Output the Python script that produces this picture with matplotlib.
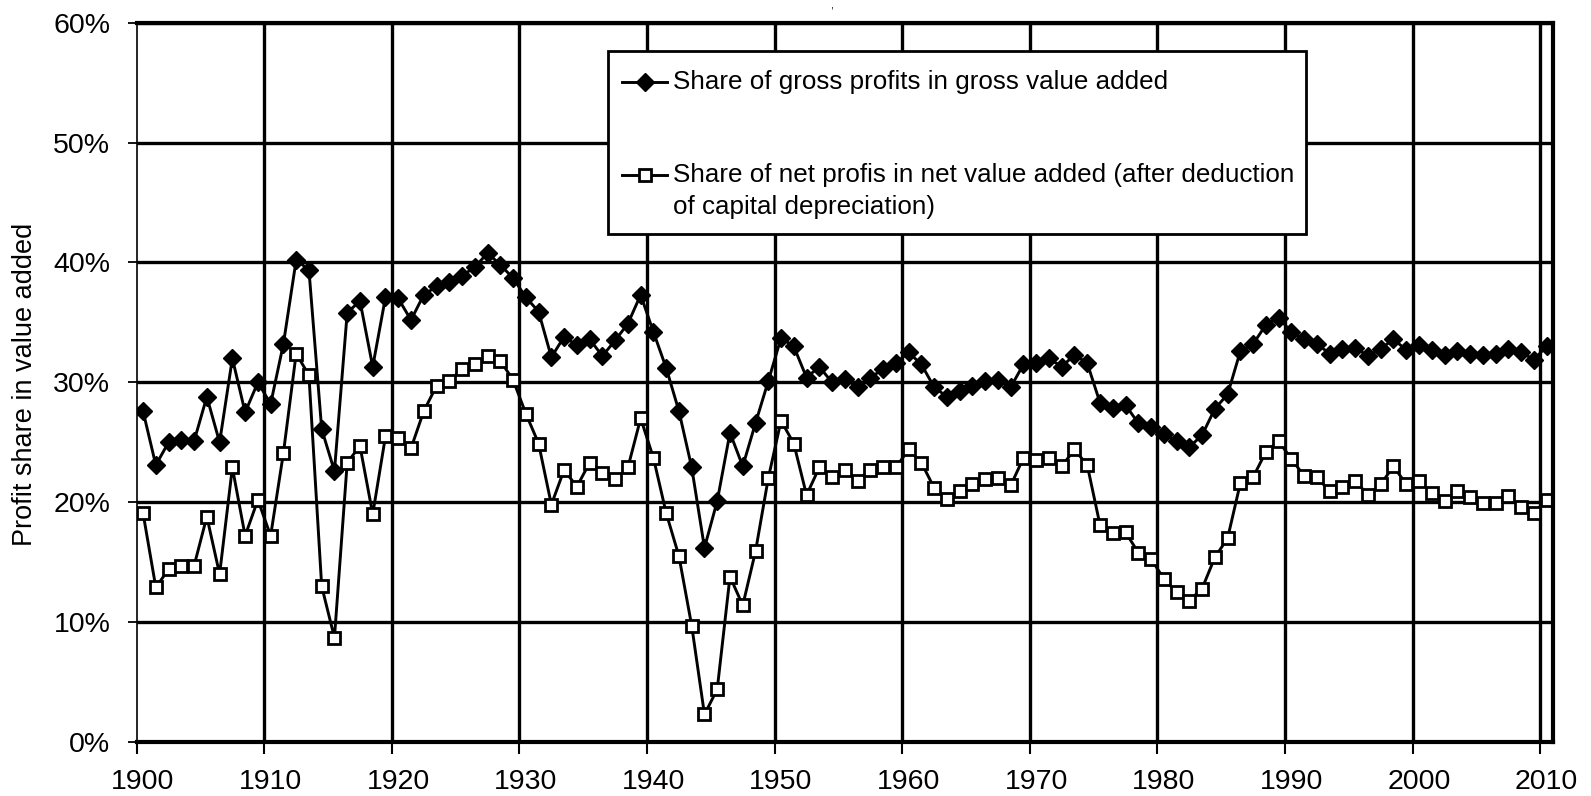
import matplotlib
matplotlib.use("Agg")
import matplotlib.pyplot as plt
from matplotlib.patches import Rectangle
from matplotlib.lines import Line2D
from matplotlib.ticker import FuncFormatter, FixedLocator

# ---- data -------------------------------------------------------------
years = list(range(1900, 2011))

gross_share = [
    27.6, 23.1, 25.0, 25.2, 25.1, 28.8, 25.0, 32.0, 27.5, 30.0,   # 1900s
    28.2, 33.2, 40.2, 39.4, 26.1, 22.6, 35.8, 36.8, 31.3, 37.1,   # 1910s
    37.0, 35.2, 37.3, 38.0, 38.4, 38.9, 39.6, 40.8, 39.8, 38.7,   # 1920s
    37.1, 35.9, 32.1, 33.8, 33.1, 33.6, 32.2, 33.5, 34.9, 37.3,   # 1930s
    34.2, 31.2, 27.6, 22.9, 16.2, 20.1, 25.8, 23.0, 26.6, 30.1,   # 1940s
    33.7, 33.0, 30.4, 31.3, 30.0, 30.3, 29.6, 30.4, 31.1, 31.6,   # 1950s
    32.5, 31.5, 29.6, 28.8, 29.3, 29.7, 30.1, 30.2, 29.6, 31.5,   # 1960s
    31.6, 32.0, 31.3, 32.3, 31.6, 28.3, 27.9, 28.1, 26.6, 26.3,   # 1970s
    25.7, 25.1, 24.6, 25.6, 27.8, 29.0, 32.6, 33.2, 34.8, 35.4,   # 1980s
    34.2, 33.6, 33.2, 32.4, 32.8, 32.9, 32.2, 32.8, 33.6, 32.7,   # 1990s
    33.1, 32.7, 32.3, 32.6, 32.4, 32.3, 32.4, 32.8, 32.5, 31.9,   # 2000s
    33.0,                                                         # 2010
]

net_share = [
    19.1, 12.9, 14.4, 14.7, 14.7, 18.8, 14.0, 22.9, 17.2, 20.2,   # 1900s
    17.2, 24.1, 32.4, 30.6, 13.0, 8.7, 23.3, 24.7, 19.0, 25.5,    # 1910s
    25.4, 24.5, 27.6, 29.7, 30.1, 31.1, 31.5, 32.2, 31.8, 30.2,   # 1920s
    27.4, 24.9, 19.8, 22.7, 21.3, 23.3, 22.4, 21.9, 22.9, 27.0,   # 1930s
    23.7, 19.1, 15.5, 9.7, 2.3, 4.4, 13.8, 11.4, 15.9, 22.0,      # 1940s
    26.8, 24.9, 20.6, 22.9, 22.1, 22.7, 21.8, 22.7, 22.9, 22.9,   # 1950s
    24.4, 23.3, 21.2, 20.3, 20.9, 21.5, 21.9, 22.0, 21.4, 23.7,   # 1960s
    23.5, 23.7, 23.0, 24.4, 23.1, 18.1, 17.4, 17.5, 15.8, 15.3,   # 1970s
    13.6, 12.5, 11.8, 12.8, 15.4, 17.0, 21.6, 22.1, 24.2, 25.1,   # 1980s
    23.6, 22.2, 22.1, 20.9, 21.3, 21.8, 20.6, 21.5, 23.0, 21.5,   # 1990s
    21.8, 20.8, 20.1, 20.9, 20.4, 19.9, 19.9, 20.5, 19.6, 19.1,   # 2000s
    20.2,                                                         # 2010
]

decade_ticks = list(range(1900, 2011, 10))
y_ticks = [0, 10, 20, 30, 40, 50, 60]

gross_label = "Share of gross profits in gross value added"
net_label_lines = ["Share of net profis in net value added (after deduction",
                   "of capital depreciation)"]
y_label = "Profit share in value added"

# ---- style ------------------------------------------------------------
plt.rcParams["font.family"] = ["Liberation Sans", "DejaVu Sans"]
TICK_FS = 20.5
LEGEND_FS = 18.7
LINE_W = 2.1
GROSS_MARK = dict(marker="D", ms=8.8, mfc="black", mec="black", mew=1.0)
NET_MARK = dict(marker="s", ms=8.4, mfc="white", mec="black", mew=2.0)
FIG_W_PX, FIG_H_PX, DPI = 1591, 796, 100
XLABEL_TOP_PX = 769          # pixel row where the year labels start

# ---- figure -----------------------------------------------------------
fig = plt.figure(figsize=(FIG_W_PX / DPI, FIG_H_PX / DPI), dpi=DPI)
ax = fig.add_axes([0.0859, 0.0678, 0.8902, 0.9037])

# each year sits in the middle of its own category slot
x_pos = [y + 0.5 for y in years]

ax.plot(x_pos, gross_share, color="black", lw=LINE_W, zorder=3, **GROSS_MARK)
ax.plot(x_pos, net_share, color="black", lw=LINE_W, zorder=4, **NET_MARK)

ax.set_xlim(1900, 2011)
ax.set_ylim(0, 60)

# gridlines at decade boundaries, labels centred on the decade's first year
ax.xaxis.set_major_locator(FixedLocator(decade_ticks))
ax.xaxis.set_minor_locator(FixedLocator([d + 0.5 for d in decade_ticks]))
ax.xaxis.set_major_formatter(FuncFormatter(lambda v, p: ""))
ax.xaxis.set_minor_formatter(FuncFormatter(lambda v, p: f"{int(v)}"))
ax.set_yticks(y_ticks)
ax.yaxis.set_major_formatter(FuncFormatter(lambda v, p: f"{v:.0f}%"))

ax.grid(True, which="major", color="black", lw=2.4, zorder=1)
ax.set_axisbelow(True)
ax.xaxis.get_gridlines()[0].set_visible(False)

ax.tick_params(axis="x", which="major", direction="out", length=8.5,
               width=1.5, color="black")
ax.tick_params(axis="x", which="minor", length=0, pad=19,
               labelsize=TICK_FS, labelcolor="black")
ax.tick_params(axis="y", which="major", direction="out", length=6.5,
               width=1.3, pad=12.5, labelsize=TICK_FS, labelcolor="black")

ax.spines["left"].set_linewidth(1.2)
for side in ("top", "right", "bottom"):
    ax.spines[side].set_linewidth(3.0)
for sp in ax.spines.values():
    sp.set_color("black")
    sp.set_zorder(5)

fig.text(0.0157, 0.5176, y_label, rotation=90, ha="center", va="center",
         fontsize=19.5, color="black")

# ---- legend box -------------------------------------------------------
box_x0, box_x1 = 0.3328, 0.8256
box_y0, box_y1 = 0.7062, 0.9607
ax.add_patch(Rectangle((box_x0, box_y0), box_x1 - box_x0, box_y1 - box_y0,
                       transform=ax.transAxes, facecolor="white",
                       edgecolor="black", lw=2.0, zorder=10, clip_on=False))

h_x0, h_x1, h_xm, txt_x = 0.3428, 0.3746, 0.3587, 0.379
row1_y, row2_y, row3_y = 0.9177, 0.7883, 0.7438

for row_y, mark in ((row1_y, GROSS_MARK), (row2_y, NET_MARK)):
    ax.add_line(Line2D([h_x0, h_x1], [row_y, row_y], transform=ax.transAxes,
                       color="black", lw=LINE_W, zorder=11))
    ax.add_line(Line2D([h_xm], [row_y], transform=ax.transAxes, zorder=12,
                       **mark))

for row_y, text in ((row1_y, gross_label), (row2_y, net_label_lines[0]),
                    (row3_y, net_label_lines[1])):
    ax.text(txt_x, row_y, text, transform=ax.transAxes, ha="left",
            va="center", fontsize=LEGEND_FS, color="black", zorder=12)

# tail of the heading line above the chart frame
fig.text(0.5228, 0.9995, ",", ha="center", va="top", fontsize=8,
         color="black")

# settle the year labels so their top edge lands on XLABEL_TOP_PX
fig.canvas.draw()
first_year_label = ax.xaxis.get_minorticklabels()[0]
label_top = FIG_H_PX - first_year_label.get_window_extent().y1
new_pad = 19 + (XLABEL_TOP_PX - label_top) * 72 / DPI
ax.tick_params(axis="x", which="minor", pad=new_pad)

fig.savefig("out.png", dpi=DPI)
